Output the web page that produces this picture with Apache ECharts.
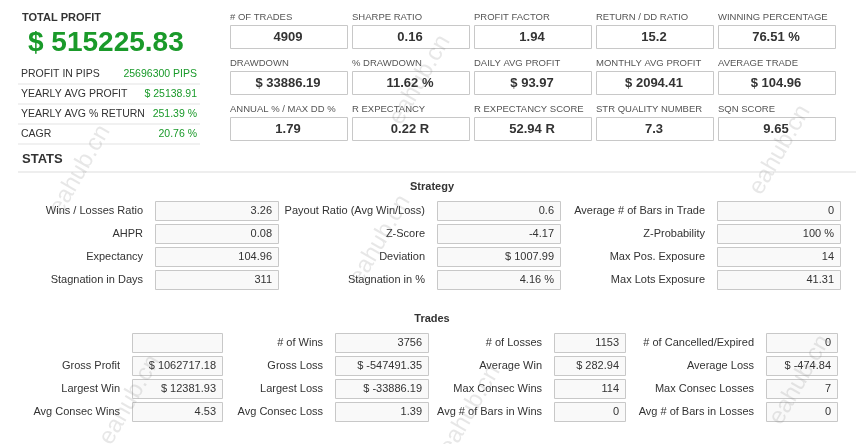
<html>
<head>
<meta charset="UTF-8" />
<script src="https://cdn.jsdelivr.net/npm/echarts@6/dist/echarts.min.js"></script>
<style>
  *{margin:0;padding:0;}
  #main{width:856px;height:444px;background:#fff;}
</style>
</head>
<body>
<div id="main"></div>
<script type="text/javascript">
var totalProfit = '$ 515225.83';
var summaryLabels = ['PROFIT IN PIPS', 'YEARLY AVG PROFIT', 'YEARLY AVG % RETURN', 'CAGR'];
var summaryValues = ['25696300 PIPS', '$ 25138.91', '251.39 %', '20.76 %'];

var metricLabels = [
  ['# OF TRADES', 'SHARPE RATIO', 'PROFIT FACTOR', 'RETURN / DD RATIO', 'WINNING PERCENTAGE'],
  ['DRAWDOWN', '% DRAWDOWN', 'DAILY AVG PROFIT', 'MONTHLY AVG PROFIT', 'AVERAGE TRADE'],
  ['ANNUAL % / MAX DD %', 'R EXPECTANCY', 'R EXPECTANCY SCORE', 'STR QUALITY NUMBER', 'SQN SCORE']
];
var metricValues = [
  ['4909', '0.16', '1.94', '15.2', '76.51 %'],
  ['$ 33886.19', '11.62 %', '$ 93.97', '$ 2094.41', '$ 104.96'],
  ['1.79', '0.22 R', '52.94 R', '7.3', '9.65']
];

var strategyLabels = [
  ['Wins / Losses Ratio', 'Payout Ratio (Avg Win/Loss)', 'Average # of Bars in Trade'],
  ['AHPR', 'Z-Score', 'Z-Probability'],
  ['Expectancy', 'Deviation', 'Max Pos. Exposure'],
  ['Stagnation in Days', 'Stagnation in %', 'Max Lots Exposure']
];
var strategyValues = [
  ['3.26', '0.6', '0'],
  ['0.08', '-4.17', '100 %'],
  ['104.96', '$ 1007.99', '14'],
  ['311', '4.16 %', '41.31']
];

var tradesLabels = [
  ['', '# of Wins', '# of Losses', '# of Cancelled/Expired'],
  ['Gross Profit', 'Gross Loss', 'Average Win', 'Average Loss'],
  ['Largest Win', 'Largest Loss', 'Max Consec Wins', 'Max Consec Losses'],
  ['Avg Consec Wins', 'Avg Consec Loss', 'Avg # of Bars in Wins', 'Avg # of Bars in Losses']
];
var tradesValues = [
  ['', '3756', '1153', '0'],
  ['$ 1062717.18', '$ -547491.35', '$ 282.94', '$ -474.84'],
  ['$ 12381.93', '$ -33886.19', '114', '7'],
  ['4.53', '1.39', '0', '0']
];

var FONT = '"Liberation Sans", Arial, sans-serif';
var GREEN = '#1a9a2a';
var els = [];

function txt(x, y, s, o) {
  o = o || {};
  els.push({type: 'text', x: x, y: y, silent: true, style: {
    text: s, fill: o.color || '#333', font: (o.weight || 'normal') + ' ' + (o.size || 11) + 'px ' + FONT,
    textAlign: o.align || 'left', textVerticalAlign: 'middle'
  }});
}
function box(x, y, w, h, fill) {
  els.push({type: 'rect', silent: true, shape: {x: x, y: y, width: w, height: h},
    style: {fill: fill || '#fff', stroke: '#c8c8c8', lineWidth: 1}});
}
function hline(x1, x2, y, c) {
  els.push({type: 'line', silent: true, shape: {x1: x1, y1: y, x2: x2, y2: y}, style: {stroke: c || '#e3e3e3', lineWidth: 1}});
}

// left summary
txt(22, 18, 'TOTAL PROFIT', {weight: 'bold', size: 11});
txt(28, 43, totalProfit, {weight: 'bold', size: 28, color: GREEN});
summaryLabels.forEach(function (l, i) {
  var y = 74 + i * 20;
  txt(21, y, l, {size: 10.5});
  txt(197, y, summaryValues[i], {size: 10.5, color: GREEN, align: 'right'});
  hline(18, 200, y + 10);
});

// metric boxes
var mx = [230, 352, 474, 596, 718];
metricLabels.forEach(function (row, r) {
  var ly = 17 + r * 46;
  row.forEach(function (l, c) {
    txt(mx[c], ly, l, {size: 9.5, color: '#555'});
    box(mx[c] + 0.5, ly + 8.5, 117, 23);
    txt(mx[c] + 58, ly + 20, metricValues[r][c], {weight: 'bold', size: 13, align: 'center', color: '#333'});
  });
});

// stats header
txt(22, 159, 'STATS', {weight: 'bold', size: 13});
hline(18, 856, 172, '#ddd');

// strategy
txt(432, 187, 'Strategy', {weight: 'bold', size: 11, align: 'center'});
var sCols = [{lx: 143, bx: 155, bw: 123}, {lx: 425, bx: 437, bw: 123}, {lx: 705, bx: 717, bw: 123}];
strategyLabels.forEach(function (row, r) {
  var y = 211 + r * 23;
  row.forEach(function (l, c) {
    var cc = sCols[c];
    txt(cc.lx, y, l, {align: 'right', size: 11});
    box(cc.bx + 0.5, y - 9.5, cc.bw, 19, '#f9f9f9');
    txt(cc.bx + cc.bw - 6, y, strategyValues[r][c], {align: 'right', size: 11});
  });
});

// trades
txt(432, 319, 'Trades', {weight: 'bold', size: 11, align: 'center'});
var tCols = [{lx: 120, bx: 132, bw: 90}, {lx: 323, bx: 335, bw: 93}, {lx: 542, bx: 554, bw: 71}, {lx: 754, bx: 766, bw: 71}];
tradesLabels.forEach(function (row, r) {
  var y = 343 + r * 23;
  row.forEach(function (l, c) {
    var cc = tCols[c];
    if (l) txt(cc.lx, y, l, {align: 'right', size: 11});
    box(cc.bx + 0.5, y - 9.5, cc.bw, 19, '#f9f9f9');
    txt(cc.bx + cc.bw - 6, y, tradesValues[r][c], {align: 'right', size: 11});
  });
});

// watermarks
[[80, 170], [420, 80], [780, 150], [380, 240], [130, 400], [470, 410], [800, 380]].forEach(function (p) {
  els.push({type: 'text', x: p[0], y: p[1], rotation: Math.PI / 3, silent: true,
    style: {text: 'eahub.cn', fill: 'rgba(120,120,120,0.18)', font: '24px ' + FONT, textAlign: 'center', textVerticalAlign: 'middle'}});
});

var chart = echarts.init(document.getElementById('main'));
chart.setOption({animation: false, graphic: {elements: els}});
</script>
</body>
</html>
